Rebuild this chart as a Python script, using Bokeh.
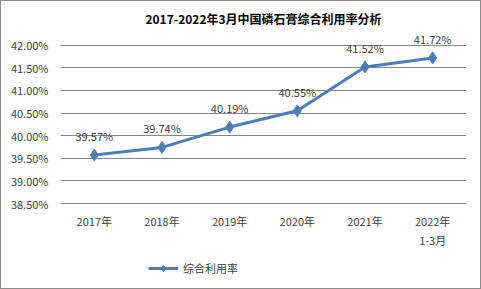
from bokeh.plotting import figure
from bokeh.layouts import column
from bokeh.models import Range1d, FixedTicker, PrintfTickFormatter, Legend, LegendItem, ColumnDataSource, LabelSet
from bokeh.core.properties import value
from bokeh.embed import file_html
from bokeh.resources import INLINE

categories = ["2017年", "2018年", "2019年", "2020年", "2021年", "2022年\n1-3月"]
rates = [39.57, 39.74, 40.19, 40.55, 41.52, 41.72]
rate_labels = ["39.57%", "39.74%", "40.19%", "40.55%", "41.52%", "41.72%"]
y_ticks = [38.5, 39.0, 39.5, 40.0, 40.5, 41.0, 41.5, 42.0]
series_name = "综合利用率"
title_text = "2017-2022年3月中国磷石膏综合利用率分析"

FONT = "Noto Sans CJK SC"
BLUE = "#4A7EBB"
GRID = "#868686"
TXT = "#404040"

xs = list(range(len(categories)))
src = ColumnDataSource(dict(x=xs, y=rates, lab=rate_labels))

# frame extends a little above the top gridline so the top data label is not clipped
p = figure(width=479, height=249, output_backend="svg", toolbar_location=None,
           x_range=Range1d(-0.5, len(categories) - 0.5), y_range=Range1d(38.5, 42.37),
           min_border_left=59, min_border_right=14, min_border_top=27, min_border_bottom=45)
p.outline_line_color = None
p.background_fill_color = "white"
p.border_fill_color = "white"

p.title.text = title_text
p.title.align = "center"
p.title.text_font = FONT
p.title.text_font_size = "12px"
p.title.text_font_style = "bold"
p.title.text_color = "black"
p.title.standoff = 3

p.yaxis.ticker = FixedTicker(ticks=y_ticks)
p.yaxis.formatter = PrintfTickFormatter(format="%.2f%%")
p.yaxis.axis_line_color = None
p.yaxis.major_tick_line_color = None
p.yaxis.minor_tick_line_color = None
p.yaxis.major_label_text_font = FONT
p.yaxis.major_label_text_font_size = "11px"
p.yaxis.major_label_text_color = TXT
p.yaxis.major_label_standoff = 6

p.xaxis.ticker = FixedTicker(ticks=xs)
p.xaxis.major_label_overrides = {i: c for i, c in zip(xs, categories)}
p.xaxis.axis_line_color = GRID
p.xaxis.major_tick_line_color = None
p.xaxis.minor_tick_line_color = None
p.xaxis.major_label_text_font = FONT
p.xaxis.major_label_text_font_size = "11px"
p.xaxis.major_label_text_color = TXT
p.xaxis.major_label_standoff = 3

p.xgrid.grid_line_color = None
p.ygrid.grid_line_color = GRID
p.ygrid.grid_line_width = 1

lr = p.line("x", "y", source=src, line_color=BLUE, line_width=3)
sr = p.scatter("x", "y", source=src, marker="diamond", size=12, fill_color=BLUE, line_color=BLUE)
labels = LabelSet(x="x", y="y", text="lab", source=src, text_font=value(FONT),
                  text_font_size=value("11px"), text_color=value(TXT), text_align="center",
                  text_baseline="bottom", y_offset=11)
p.add_layout(labels)

# legend strip below the chart (its renderers sit outside its visible ranges)
lg = figure(width=479, height=38, output_backend="svg", toolbar_location=None,
            x_range=Range1d(100, 101), y_range=Range1d(100, 101),
            x_axis_location=None, y_axis_location=None,
            min_border_left=0, min_border_right=0, min_border_top=0, min_border_bottom=0)
lg.outline_line_color = None
lg.xgrid.grid_line_color = None
lg.ygrid.grid_line_color = None
lr2 = lg.line("x", "y", source=src, line_color=BLUE, line_width=3)
sr2 = lg.scatter("x", "y", source=src, marker="diamond", size=12, fill_color=BLUE, line_color=BLUE)
legend = Legend(items=[LegendItem(label=series_name, renderers=[lr2, sr2])],
                location=(88, 12), orientation="horizontal",
                label_text_font=FONT, label_text_font_size="11px", label_text_color=TXT,
                border_line_color=None, background_fill_alpha=0, glyph_width=30,
                glyph_height=16, label_height=16, margin=0, padding=0, label_standoff=5)
lg.add_layout(legend, "center")

layout = column(p, lg, spacing=0)
layout.styles = {"border": "1px solid #8c8c8c", "background": "white"}

open("out.html", "w").write(file_html(layout, INLINE))
